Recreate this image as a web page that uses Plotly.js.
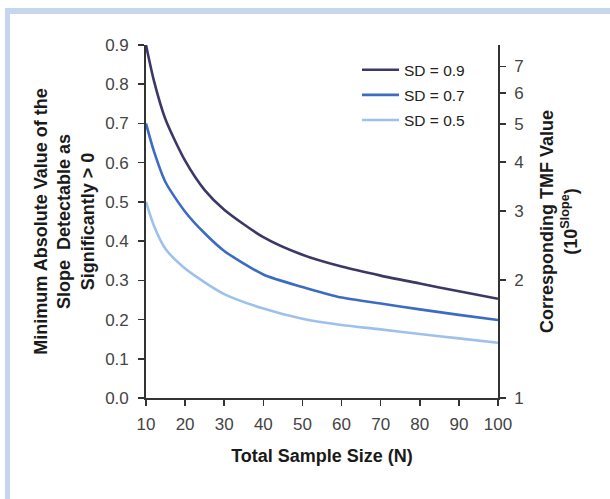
<!DOCTYPE html>
<html>
<head>
<meta charset="utf-8">
<script src="https://cdn.plot.ly/plotly-3.0.1.min.js"></script>
<style>
  html, body { margin: 0; padding: 0; background: #ffffff; }
  #frame { position: absolute; left: 5px; top: 8px; width: 605px; height: 491px;
           border-top: 6px solid #c6d6ef; border-left: 5px solid #c6d6ef; box-sizing: border-box; }
  #chart { position: absolute; left: 0; top: 0; width: 610px; height: 499px; }
</style>
</head>
<body>
<div id="frame"></div>
<div id="chart"></div>
<script>
// Total sample size (N)
const sampleSize = [10, 12, 15, 20, 25, 30, 40, 50, 60, 70, 80, 90, 100];
// Minimum detectable slope, by SD
const sd09 = [0.90, 0.81, 0.71, 0.605, 0.53, 0.48, 0.41, 0.365, 0.335, 0.312, 0.292, 0.272, 0.253];
const sd07 = [0.70, 0.63, 0.55, 0.475, 0.42, 0.375, 0.315, 0.283, 0.256, 0.241, 0.226, 0.212, 0.199];
const sd05 = [0.50, 0.44, 0.38, 0.33, 0.295, 0.265, 0.228, 0.202, 0.186, 0.175, 0.163, 0.152, 0.141];
const seriesNames = ["SD = 0.9", "SD = 0.7", "SD = 0.5"];
const xTicks = [10, 20, 30, 40, 50, 60, 70, 80, 90, 100];
const yTicks = [0, 0.1, 0.2, 0.3, 0.4, 0.5, 0.6, 0.7, 0.8, 0.9];
const tmfTicks = [1, 2, 3, 4, 5, 6, 7];

const colors = ["#3c3866", "#3b6cc3", "#9dc1eb"];
const series = [sd09, sd07, sd05];

const traces = series.map((ys, i) => ({
  x: sampleSize, y: ys, type: "scatter", mode: "lines",
  name: seriesNames[i], legendgroup: "g" + i,
  line: { color: colors[i], width: 2.6, shape: "spline", smoothing: 0.7 }
}));
// invisible trace to activate the right log axis
traces.push({ x: [10], y: [1], yaxis: "y2", mode: "markers", marker: { opacity: 0 },
  showlegend: false, hoverinfo: "skip" });

const fam = "Liberation Sans, Arial, sans-serif";
const tickFont = { family: fam, size: 17, color: "#444" };
const titleFont = { family: fam, size: 18, color: "#1a1a1a" };

const layout = {
  width: 610, height: 499,
  paper_bgcolor: "rgba(0,0,0,0)", plot_bgcolor: "rgba(0,0,0,0)",
  margin: { l: 146, r: 112, t: 45, b: 101 },
  font: { family: fam, size: 16, color: "#333" },
  showlegend: true,
  legend: { x: 0.5994, y: 0.977, xanchor: "left", yanchor: "top", itemwidth: 37,
    font: { family: fam, size: 15.5, color: "#222" },
    traceorder: "grouped", tracegroupgap: 2, bgcolor: "rgba(0,0,0,0)" },
  xaxis: {
    range: [10, 100], tickvals: xTicks, ticks: "outside", ticklen: 6, tickwidth: 1.5,
    tickcolor: "#333", showline: true, linecolor: "#333", linewidth: 1.8,
    showgrid: false, zeroline: false, tickfont: tickFont, ticklabelstandoff: 4,
    title: { text: "<b>Total Sample Size (N)</b>", font: titleFont, standoff: 16 }
  },
  yaxis: {
    range: [0, 0.9], tickvals: yTicks, tickformat: ".1f", ticks: "outside", ticklen: 6, tickwidth: 1.5,
    tickcolor: "#333", showline: true, linecolor: "#333", linewidth: 1.8,
    showgrid: false, zeroline: false, tickfont: tickFont, ticklabelstandoff: 6,
    title: { text: "<b>Minimum Absolute Value of the<br>Slope  Detectable as<br>Significantly > 0</b>",
      font: titleFont, standoff: 6 }
  },
  yaxis2: {
    type: "log", range: [0, 0.9], overlaying: "y", side: "right",
    tickvals: tmfTicks, ticktext: tmfTicks.map(String), ticks: "outside", ticklen: 6, tickwidth: 1.5,
    tickcolor: "#333", showline: true, linecolor: "#333", linewidth: 1.8,
    showgrid: false, zeroline: false, tickfont: tickFont, ticklabelstandoff: 5,
    title: { text: "<b>Corresponding TMF Value<br>(10<sup>Slope</sup>)</b>",
      font: titleFont, standoff: 18 }
  }
};

Plotly.newPlot("chart", traces, layout, { displayModeBar: false, staticPlot: true });
</script>
</body>
</html>
